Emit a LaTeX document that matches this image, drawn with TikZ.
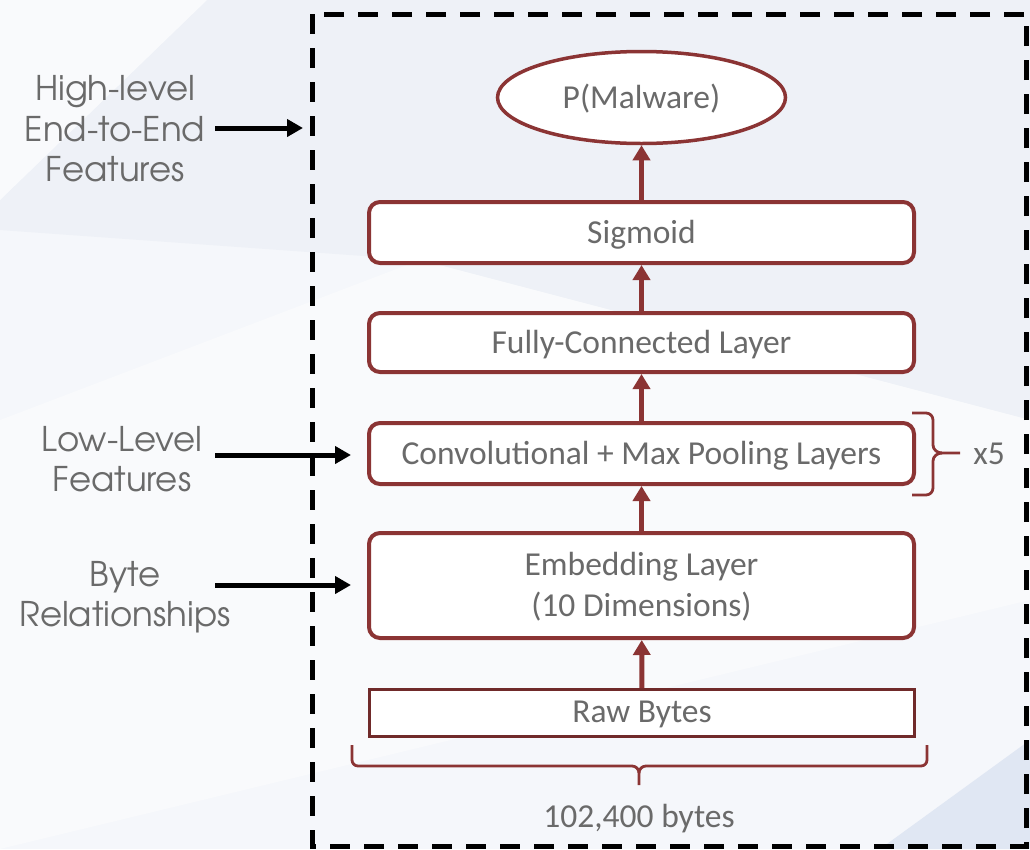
\documentclass[tikz,border=0pt]{standalone}
\usepackage{fontspec}
\setmainfont{Carlito}
\newfontfamily\gothic{TeX Gyre Adventor}
\usetikzlibrary{arrows.meta,shapes.geometric}
\definecolor{bordo}{HTML}{8B3434}
\definecolor{rawred}{HTML}{702A2A}
\definecolor{txt}{HTML}{6A6A6A}
\definecolor{lbl}{HTML}{6A6A6A}
\definecolor{bg}{HTML}{F5F7FB}
\definecolor{bgA}{HTML}{EEF1F7}
\definecolor{bgB}{HTML}{F9FAFC}
\definecolor{bgC}{HTML}{E0E7F3}
\begin{document}
\begin{tikzpicture}[x=1pt,y=-1pt,
  layer/.style={draw=bordo, line width=4pt, rounded corners=11pt, fill=white,
    minimum width=545pt, text=txt, font=\fontsize{33.5}{41}\selectfont,
    align=center, inner sep=0pt, text depth=2pt},
  lab/.style={text=lbl, font=\gothic\fontsize{34}{40.5}\selectfont, align=center, inner sep=0pt},
  redarr/.style={draw=bordo, line width=5pt, -{Triangle[length=15pt,width=17pt]}},
  blkarr/.style={draw=black, line width=5pt, -{Triangle[length=16pt,width=17pt]}},
  bracestyle/.style={draw=bordo, line width=2.8pt, line join=round},
  plain/.style={text=txt, font=\fontsize{33.5}{41}\selectfont, inner sep=0pt}]
% background
\fill[bg] (0,0) rectangle (1030,849);
\fill[bgA] (207,0) -- (1030,0) -- (1030,420) -- (420,260) -- (0,230) -- (0,200) -- cycle;
\fill[bgB] (0,0) -- (207,0) -- (0,200) -- cycle;
\fill[bgB] (0,420) -- (420,260) -- (1030,420) -- (1030,600) -- (0,849) -- cycle;
\fill[bgC] (880,849) -- (1030,740) -- (1030,849) -- cycle;
\useasboundingbox (0,0) rectangle (1030,849);
% dashed frame
\draw[black, line width=5pt, dash pattern=on 20pt off 14pt] (312,14) rectangle (1026,846);
% layers
\node[draw=bordo, line width=3.5pt, fill=white, ellipse, minimum width=288pt, minimum height=92pt,
  text=txt, font=\fontsize{33.5}{41}\selectfont, inner sep=0pt, text depth=2pt] (pm) at (641.5,97.5) {P(Malware)};
\node[layer, minimum height=61pt] (sig) at (641.5,232.5) {Sigmoid};
\node[layer, minimum height=59pt] (fc) at (641.5,342.5) {Fully-Connected Layer};
\node[layer, minimum height=61pt] (conv) at (641.5,453.5) {Convolutional + Max Pooling Layers};
\node[layer, minimum height=105pt] (emb) at (641.5,585.5) {Embedding Layer\\(10 Dimensions)};
\node[draw=rawred, line width=3pt, fill=white, minimum width=545pt, minimum height=47pt,
  text=txt, font=\fontsize{33.5}{41}\selectfont, inner sep=0pt, text depth=2pt] (raw) at (642,713) {Raw Bytes};
% red arrows
\draw[redarr] (raw) -- (emb);
\draw[redarr] (emb) -- (conv);
\draw[redarr] (conv) -- (fc);
\draw[redarr] (fc) -- (sig);
\draw[redarr] (sig) -- (pm);
% x5 brace
\draw[bracestyle] (912,413) -- (926,413) to[out=0,in=90] (933,420) -- (933,445)
  to[out=-90,in=180] (942,453) -- (960,453);
\draw[bracestyle] (912,495) -- (926,495) to[out=0,in=-90] (933,488) -- (933,461)
  to[out=90,in=180] (942,453);
\node[plain] (x5) at (989,454) {x5};
% bottom brace
\draw[bracestyle] (352,745) -- (352,760) to[out=-90,in=180] (358,766) -- (632,766)
  to[out=0,in=90] (639,773) -- (639,785);
\draw[bracestyle] (927,745) -- (927,760) to[out=-90,in=0] (921,766) -- (646,766)
  to[out=180,in=90] (639,773);
\node[plain] (bytes) at (639,819) {102,400 bytes};
% left labels
\node[lab] (hl) at (115,129) {High-level\\End-to-End\\Features};
\node[lab] (ll) at (122,459) {Low-Level\\Features};
\node[lab] (br) at (125,597) {Byte\\Relationships};
\coordinate (hls) at (215,128);
\coordinate (hle) at (303,128);
\coordinate (lls) at (215,455);
\coordinate (brs) at (215,585);
\draw[blkarr] (hls) -- (hle);
\draw[blkarr, shorten >=16pt] (lls) -- (lls -| conv.west);
\draw[blkarr, shorten >=16pt] (brs) -- (brs -| emb.west);
\end{tikzpicture}
\end{document}
